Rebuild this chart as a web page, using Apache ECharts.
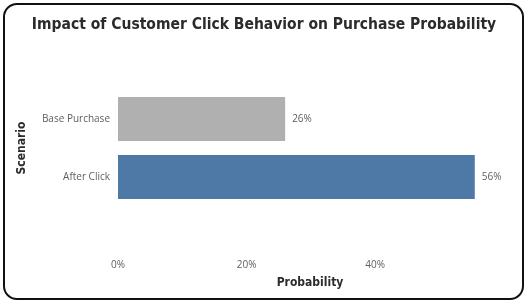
<!DOCTYPE html>
<html><head><meta charset="utf-8">
<script src="https://cdn.jsdelivr.net/npm/echarts@6/dist/echarts.min.js"></script>
<style>
html,body{margin:0;padding:0;background:#fff;}
#frame{position:absolute;left:3px;top:3px;width:517px;height:293px;border:2px solid #111;border-radius:14px;}
#c{position:absolute;left:0;top:0;width:528px;height:304px;}
</style></head><body>
<div id="frame"></div>
<div id="c"></div>
<script>
const categories = ['Base Purchase', 'After Click'];
const values = [0.26, 0.555];
const colors = ['#b0b0b0', '#4e78a6'];
const tickValues = [0, 0.2, 0.4];

const chart = echarts.init(document.getElementById('c'));
chart.setOption({
  animation: false,
  title: {
    text: 'Impact of Customer Click Behavior on Purchase Probability',
    left: 'center', top: 12,
    textStyle: {fontFamily: 'DejaVu Sans Condensed', fontWeight: 'bold', fontSize: 15.5, color: '#2b2b2b'}
  },
  grid: {left: 118, right: 50, top: 90, bottom: 98, containLabel: false},
  xAxis: {
    type: 'value', min: 0, max: 0.56, interval: 0.2,
    splitLine: {show: false}, axisLine: {show: false}, axisTick: {show: false},
    axisLabel: {
      showMaxLabel: false, margin: 54,
      color: '#605e5c', fontFamily: 'Open Sans', fontSize: 10,
      formatter: v => tickValues.includes(Math.round(v*10)/10) ? Math.round(v*100) + '%' : ''
    },
    name: 'Probability', nameLocation: 'middle', nameGap: 71,
    nameTextStyle: {fontFamily: 'DejaVu Sans Condensed', fontWeight: 'bold', fontSize: 12, color: '#2b2b2b', padding: [0, 0, 0, 24]}
  },
  yAxis: {
    type: 'category', data: categories, inverse: true,
    axisLine: {show: false}, axisTick: {show: false},
    axisLabel: {margin: 8, color: '#605e5c', fontFamily: 'Open Sans', fontSize: 10},
    name: 'Scenario', nameLocation: 'middle', nameGap: 90, nameRotate: 90,
    nameTextStyle: {fontFamily: 'DejaVu Sans Condensed', fontWeight: 'bold', fontSize: 12, color: '#2b2b2b'}
  },
  series: [{
    type: 'bar',
    data: values.map((v, i) => ({value: v, itemStyle: {color: colors[i]}})),
    barCategoryGap: '24%',
    label: {
      show: true, position: 'right', distance: 7,
      color: '#605e5c', fontFamily: 'Open Sans', fontSize: 10,
      formatter: p => Math.round(p.value * 100) + '%'
    }
  }]
});
</script></body></html>
